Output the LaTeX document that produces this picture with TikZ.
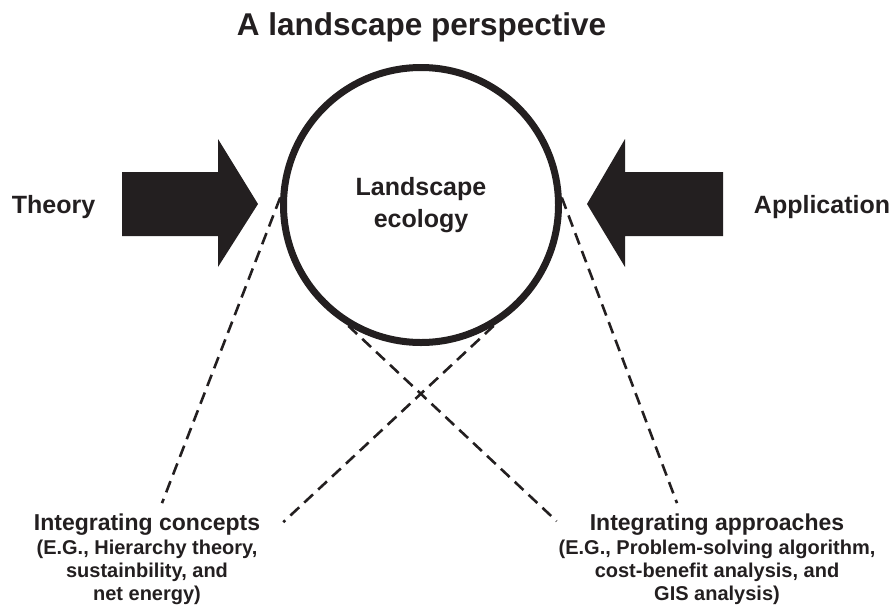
\documentclass[tikz,border=0pt]{standalone}
\usepackage{fontspec}
\setmainfont{Liberation Sans}
\usetikzlibrary{positioning}
\definecolor{ink}{HTML}{231F20}

\begin{document}
\begin{tikzpicture}[
  x=1pt, y=-1pt,
  every node/.style={text=ink, font=\bfseries},
  ring/.style={draw=ink, circle, line width=7pt, minimum size=275pt,
               inner sep=0pt, align=center,
               font=\bfseries\fontsize{25}{32}\selectfont},
  side/.style={anchor=base, font=\bfseries\fontsize{25}{30}\selectfont},
  head/.style={anchor=base, inner sep=0pt,
               font=\bfseries\fontsize{23}{26}\selectfont},
  note/.style={inner sep=0pt, align=center,
               font=\bfseries\fontsize{20}{23}\selectfont},
  link/.style={draw=ink, line width=2.6pt, dash pattern=on 12pt off 7pt}
]
\useasboundingbox (0,0) rectangle (894,606);

\node[anchor=base, font=\bfseries\fontsize{31.5}{36}\selectfont] (title) at (421.5,35) {A landscape perspective};
\node[ring] (eco) at (421,205) {Landscape\\ecology};

\node[side] (theory) at (53.5,213) {Theory};
\node[side] (appl)   at (822,213)  {Application};

% the two block arrows pointing at the ring
\fill[ink] (122,172) -- (218,172) -- (218,139) -- (258,204)
        -- (218,267) -- (218,236) -- (122,236) -- cycle;
\fill[ink] (723,172) -- (625,172) -- (625,139) -- (587,204)
        -- (625,267) -- (625,236) -- (723,236) -- cycle;

\node[head] (conc) at (147,530) {Integrating concepts};
\node[note, below=5pt of conc] (concnote) {(E.G., Hierarchy theory,\\sustainbility, and\\net energy)};
\node[head] (appr) at (717,530) {Integrating approaches};
\node[note, below=5pt of appr] (apprnote) {(E.G., Problem-solving algorithm,\\cost-benefit analysis, and\\GIS analysis)};

\draw[link] (eco.177) -- ([xshift=15pt,yshift=10pt]conc.north);
\draw[link] (eco.3)   -- ([xshift=-40pt,yshift=10pt]appr.north);
\draw[link] (eco.239) -- ([xshift=-33pt,yshift=3pt]appr.west);
\draw[link] (eco.301) -- ([xshift=23pt,yshift=2pt]conc.east);
\end{tikzpicture}
\end{document}
